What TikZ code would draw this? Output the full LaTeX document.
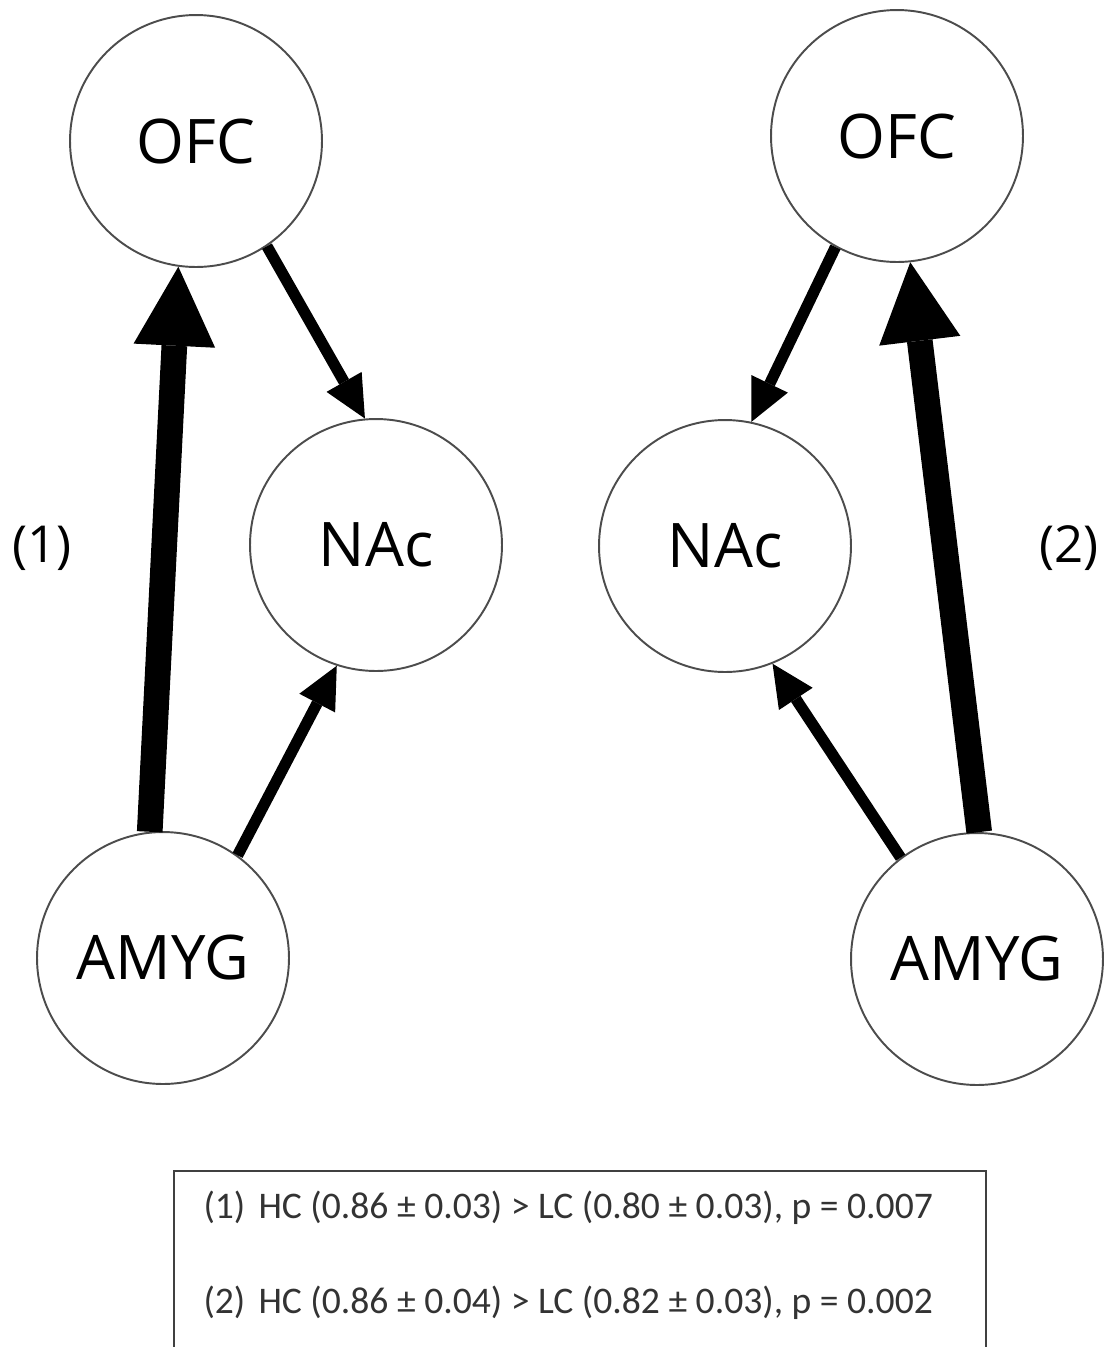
\documentclass[tikz,border=0pt]{standalone}
\usepackage{fontspec}
\setmainfont{Open Sans}
\newfontfamily\legendfont{Carlito}
\usepackage{tikz}
\usetikzlibrary{arrows.meta, positioning}
\tikzset{
    region/.style={
           circle,
           draw=black!70, line width=1.1pt,
           minimum size=5.04cm,
           inner sep=0pt,
           font=\fontsize{35}{40}\selectfont,
           text centered,
           },
    strong/.style={line width=14.6pt, -{Triangle[length=45pt,width=46.5pt,line width=0pt]}},
    weak/.style={line width=6.4pt, -{Triangle[length=24pt,width=23pt,line width=0pt]}},
}

\begin{document}
\begin{tikzpicture}[x=0.02cm, y=-0.02cm, semithick]
  \useasboundingbox (0,0) rectangle (1106,1347);
  \tikzstyle{tag}=[font=\fontsize{29}{34}\selectfont, inner sep=0pt]
  \tikzstyle{legendline}=[font=\legendfont\fontsize{21.4}{25}\selectfont, text=black!80, inner sep=0pt, anchor=west]

  % left group
  \node[region] (OFCleft)   at (196,141) {OFC};
  \node[region] (NAcleft)   at (376,545) {NAc};
  \node[region] (AMYGleft)  at (163,958) {AMYG};
  \node[tag]    (TagOne)    at (42,548)  {(1)};

  % right group
  \node[region] (OFCright)  at (897,136) {OFC};
  \node[region] (NAcright)  at (725,546) {NAc};
  \node[region] (AMYGright) at (977,959) {AMYG};
  \node[tag]    (TagTwo)    at (1069,548) {(2)};

  \draw (AMYGleft.96)    edge[strong]  (OFCleft.-98);
  \draw (OFCleft.-56)    edge[weak]    (NAcleft.95);
  \draw (AMYGleft.54)    edge[weak]    (NAcleft.-108);

  \draw (AMYGright.89)   edge[strong]  (OFCright.-84);
  \draw (OFCright.-119)  edge[weak]    (NAcright.78);
  \draw (AMYGright.127)  edge[weak]    (NAcright.-68);

  % legend
  \node[draw=black!75, line width=1.2pt, minimum width=16.24cm, minimum height=5cm,
        anchor=north west] (Legend) at (173,1170) {};
  \node[legendline] (LineOne) at (203,1208) {(1)\hspace{0.35em}HC (0.86 ± 0.03) > LC (0.80 ± 0.03), p = 0.007};
  \node[legendline] (LineTwo) at (203,1303) {(2)\hspace{0.35em}HC (0.86 ± 0.04) > LC (0.82 ± 0.03), p = 0.002};

\end{tikzpicture}
\end{document}
